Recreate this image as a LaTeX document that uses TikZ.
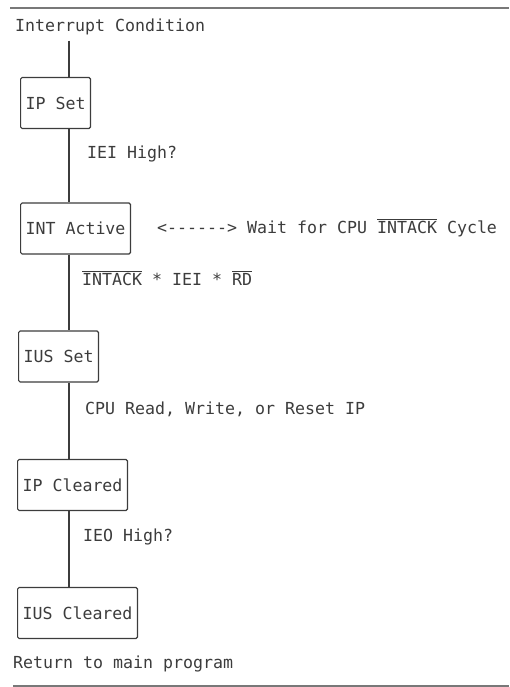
\documentclass[tikz,border=0pt]{standalone}
\usepackage{fontspec}
\setmonofont{DejaVu Sans Mono}
\usetikzlibrary{positioning,calc}
\definecolor{inkgray}{RGB}{60,60,60}
\definecolor{rulegray}{RGB}{120,120,120}

\begin{document}
\begin{tikzpicture}[
  x=1pt,y=-1pt,
  every node/.style={font=\ttfamily\fontsize{16.6}{20}\selectfont,text=inkgray},
  state/.style={draw=inkgray,line width=1.1pt,rounded corners=1.5pt,
    minimum height=51pt,inner xsep=5pt,anchor=west},
  note/.style={inner sep=0pt,anchor=base west},
  flow/.style={draw=inkgray,line width=1.1pt}]
  \useasboundingbox (0,0) rectangle (509,687);
  \coordinate (spine) at (69,0);
  % top and bottom rules
  \draw[rulegray,line width=1.2pt] (10,8) -- (509,8);
  \draw[rulegray,line width=1.2pt] (13,686) -- (509,686);
  % states
  \node[note](start) at(15,32){Interrupt Condition};
  \node[state](ipset) at(20,103){IP Set};
  \node[state](intact) at(20,228.5){INT Active};
  \node[state](iusset) at(18,356.5){IUS Set};
  \node[state](ipclr) at(17,485){IP Cleared};
  \node[state](iusclr) at(17,613){IUS Cleared};
  \node[note](ret) at(13,668){Return to main program};
  % conditions
  \node[note] at(87,158){IEI High?};
  \node[note](wait) at(157,233){<------> Wait for CPU $\overline{\hbox{INTACK}}$ Cycle};
  \node[note] at(82,285){$\overline{\hbox{INTACK}}$ * IEI * $\overline{\hbox{RD}}$};
  \node[note] at(85,414){CPU Read, Write, or Reset IP};
  \node[note] at(83,541){IEO High?};
  % spine
  \draw[flow] ($(start.south -| spine)+(0,5)$) -- (ipset.north -| spine);
  \draw[flow] (ipset.south -| spine) -- (intact.north -| spine);
  \draw[flow] (intact.south -| spine) -- (iusset.north -| spine);
  \draw[flow] (iusset.south -| spine) -- (ipclr.north -| spine);
  \draw[flow] (ipclr.south -| spine) -- (iusclr.north -| spine);
\end{tikzpicture}
\end{document}
